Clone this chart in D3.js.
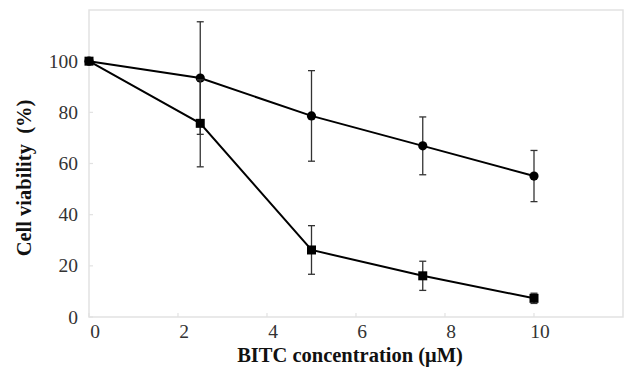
<!DOCTYPE html>
<html>
<head>
<meta charset="utf-8">
<script src="https://cdn.jsdelivr.net/npm/d3@7"></script>
<style>
  html, body { margin: 0; padding: 0; background: #fff; }
  svg { display: block; }
</style>
</head>
<body>
<div id="chart"></div>
<script>
// BITC concentration (µM)
const concentrations = [0, 2.5, 5, 7.5, 10];

// circle series
const viabilityCircle = [100, 93.4, 78.6, 66.9, 55.1];
const errorCircle = [0, 22, 17.7, 11.3, 10];

// square series
const viabilitySquare = [100, 75.7, 26.2, 16.1, 7.3];
const errorSquare = [0, 17, 9.5, 5.7, 2];

const xTicks = [0, 2, 4, 6, 8, 10];
const yTicks = [0, 20, 40, 60, 80, 100];

const width = 624, height = 377;
const margin = { top: 10, right: 1, bottom: 60, left: 89 };

const svg = d3.select("#chart").append("svg")
    .attr("width", width)
    .attr("height", height);

const x = d3.scaleLinear().domain([0, 12]).range([margin.left, width - margin.right]);
const y = d3.scaleLinear().domain([0, 120]).range([height - margin.bottom, margin.top]);

const frameColor = "#e2e2e2";
const serif = "'Liberation Serif', 'Times New Roman', serif";

// frame
svg.append("rect")
    .attr("x", x(0)).attr("y", y(120))
    .attr("width", x(12) - x(0)).attr("height", y(0) - y(120))
    .attr("fill", "none").attr("stroke", frameColor).attr("stroke-width", 1.5);

// y ticks + labels
const yAxis = svg.append("g");
yAxis.selectAll("line").data(yTicks).join("line")
    .attr("x1", x(0)).attr("x2", x(0) + 4)
    .attr("y1", d => y(d)).attr("y2", d => y(d))
    .attr("stroke", frameColor).attr("stroke-width", 1.2);
yAxis.selectAll("text").data(yTicks).join("text")
    .attr("x", 78).attr("y", d => y(d))
    .attr("dy", "0.34em")
    .attr("text-anchor", "end")
    .attr("font-family", serif).attr("font-size", 19.5)
    .attr("fill", "#333")
    .text(d => d);

// x ticks + labels
const xAxis = svg.append("g");
xAxis.selectAll("line").data(xTicks).join("line")
    .attr("x1", d => x(d)).attr("x2", d => x(d))
    .attr("y1", y(0)).attr("y2", y(0) - 4)
    .attr("stroke", frameColor).attr("stroke-width", 1.2);
xAxis.selectAll("text").data(xTicks).join("text")
    .attr("x", d => x(d) + 6).attr("y", y(0) + 21)
    .attr("text-anchor", "middle")
    .attr("font-family", serif).attr("font-size", 19.5)
    .attr("fill", "#333")
    .text(d => d);

// axis titles
svg.append("text")
    .attr("x", 350).attr("y", 362)
    .attr("text-anchor", "middle")
    .attr("font-family", serif).attr("font-weight", "bold")
    .attr("font-size", 20.5).attr("fill", "#111")
    .text("BITC concentration (μM)");

svg.append("text")
    .attr("transform", "translate(31,178) rotate(-90)")
    .attr("text-anchor", "middle")
    .attr("font-family", serif).attr("font-weight", "bold")
    .attr("font-size", 20.5).attr("fill", "#111")
    .attr("xml:space", "preserve")
    .text("Cell viability  (%)");

function drawSeries(values, errors, marker) {
    const pts = concentrations.map((c, i) => ({ c, v: values[i], e: errors[i] }));
    const g = svg.append("g");

    // error bars
    const eb = g.selectAll("g.err").data(pts.filter(d => d.e > 0)).join("g");
    eb.append("line")
        .attr("x1", d => x(d.c)).attr("x2", d => x(d.c))
        .attr("y1", d => y(d.v + d.e)).attr("y2", d => y(d.v - d.e))
        .attr("stroke", "#333").attr("stroke-width", 1.3);
    [1, -1].forEach(s => {
        eb.append("line")
            .attr("x1", d => x(d.c) - 3.5).attr("x2", d => x(d.c) + 3.5)
            .attr("y1", d => y(d.v + s * d.e)).attr("y2", d => y(d.v + s * d.e))
            .attr("stroke", "#333").attr("stroke-width", 1.3);
    });

    const line = d3.line().x(d => x(d.c)).y(d => y(d.v));
    g.append("path").datum(pts)
        .attr("fill", "none").attr("stroke", "#000").attr("stroke-width", 2)
        .attr("d", line);

    if (marker === "circle") {
        g.selectAll("circle").data(pts).join("circle")
            .attr("cx", d => x(d.c)).attr("cy", d => y(d.v))
            .attr("r", 4.6).attr("fill", "#000");
    } else {
        g.selectAll("rect").data(pts).join("rect")
            .attr("x", d => x(d.c) - 4.5).attr("y", d => y(d.v) - 4.5)
            .attr("width", 9).attr("height", 9).attr("fill", "#000");
    }
}

drawSeries(viabilityCircle, errorCircle, "circle");
drawSeries(viabilitySquare, errorSquare, "square");
</script>
</body>
</html>
